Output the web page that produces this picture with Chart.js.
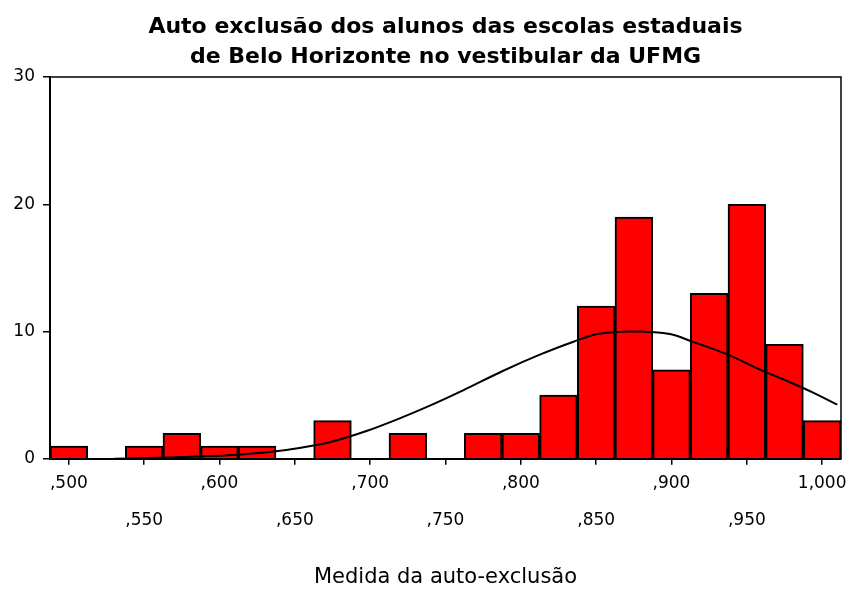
<!DOCTYPE html>
<html>
<head>
<meta charset="utf-8">
<script src="https://cdn.jsdelivr.net/npm/chart.js@4"></script>
<style>
  body { margin: 0; background: #fff; }
  #wrap { width: 850px; height: 590px; }
</style>
</head>
<body>
<div id="wrap"><canvas id="histChart" width="850" height="590"></canvas></div>
<script>
// bin centres (width ,025) and counts
const binCenters = [0.500, 0.525, 0.550, 0.575, 0.600, 0.625, 0.650, 0.675, 0.700, 0.725, 0.750,
                    0.775, 0.800, 0.825, 0.850, 0.875, 0.900, 0.925, 0.950, 0.975, 1.000];
const binCounts = [1, 0, 1, 2, 1, 1, 0, 3, 0, 2, 0, 2, 2, 5, 12, 19, 7, 13, 20, 9, 3];

// normal curve
const curveX = [0.530, 0.560, 0.587, 0.609, 0.636, 0.654, 0.675, 0.698, 0.720, 0.740, 0.762, 0.788,
                0.813, 0.835, 0.851, 0.875, 0.899, 0.914, 0.937, 0.959, 0.977, 0.994, 1.010];
const curveY = [0.0, 0.08, 0.18, 0.30, 0.57, 0.87, 1.36, 2.2, 3.2, 4.2, 5.4, 6.9,
                8.2, 9.2, 9.8, 10.0, 9.8, 9.2, 8.2, 7.0, 6.1, 5.2, 4.25];

const xTickValues = [0.50, 0.55, 0.60, 0.65, 0.70, 0.75, 0.80, 0.85, 0.90, 0.95, 1.00];
const xTickLabels = [',500', ',550', ',600', ',650', ',700', ',750', ',800', ',850', ',900', ',950', '1,000'];
const yTickValues = [0, 10, 20, 30];

const FONT = '"DejaVu Sans", Arial, sans-serif';

// box round the plot area (top and right sides)
const frame = {
    id: 'frame',
    afterDatasetsDraw(chart) {
        const { ctx, chartArea: a } = chart;
        ctx.save();
        ctx.strokeStyle = '#000';
        ctx.lineWidth = 1.5;
        ctx.beginPath();
        ctx.moveTo(a.left, a.top);
        ctx.lineTo(a.right, a.top);
        ctx.lineTo(a.right, a.bottom);
        ctx.stroke();
        ctx.restore();
    }
};

const ctx = document.getElementById('histChart').getContext('2d');
new Chart(ctx, {
    type: 'bar',
    data: {
        datasets: [
            {
                type: 'line',
                order: 0,
                data: curveX.map((x, i) => ({ x: x, y: curveY[i] })),
                borderColor: '#000',
                borderWidth: 2,
                pointRadius: 0,
                cubicInterpolationMode: 'monotone',
                fill: false
            },
            {
                type: 'bar',
                order: 1,
                data: binCenters.map((x, i) => ({ x: x, y: binCounts[i] })),
                backgroundColor: '#ff0000',
                borderColor: '#000',
                borderWidth: 2,
                barPercentage: 1,
                categoryPercentage: 1
            }
        ]
    },
    plugins: [frame],
    options: {
        responsive: false,
        animation: false,
        layout: { padding: { left: 0, right: 9, top: 0, bottom: 0 } },
        plugins: {
            legend: { display: false },
            tooltip: { enabled: false },
            title: {
                display: true,
                fullSize: false,
                text: ['Auto exclusão dos alunos das escolas estaduais', 'de Belo Horizonte no vestibular da UFMG'],
                color: '#000',
                font: { family: FONT, size: 22, weight: 'bold', lineHeight: 30 / 22 },
                padding: { top: 12, bottom: 5 }
            }
        },
        scales: {
            x: {
                type: 'linear',
                offset: false,
                min: 0.4875,
                max: 1.0125,
                afterBuildTicks: (scale) => {
                    scale.ticks = xTickValues.map(v => ({ value: v }));
                },
                ticks: {
                    includeBounds: false,
                    autoSkip: false,
                    maxRotation: 0,
                    padding: 0,
                    color: '#000',
                    font: { family: FONT, size: 17, lineHeight: 37 / 17 },
                    callback: function(value, index) {
                        const label = xTickLabels[index];
                        return index % 2 === 0 ? label : ['', label];
                    }
                },
                grid: { offset: false, drawOnChartArea: false, drawTicks: true, tickLength: 6, color: '#000', lineWidth: 1.5 },
                border: { display: true, color: '#000', width: 2 },
                title: {
                    display: true,
                    text: 'Medida da auto-exclusão',
                    color: '#000',
                    font: { family: FONT, size: 21, lineHeight: 1.2 },
                    padding: { top: 26, bottom: 0 }
                }
            },
            y: {
                min: 0,
                max: 30,
                afterBuildTicks: (scale) => {
                    scale.ticks = yTickValues.map(v => ({ value: v }));
                },
                afterFit: (scale) => { scale.width = 50; },
                ticks: {
                    padding: 8,
                    color: '#000',
                    font: { family: FONT, size: 17 }
                },
                grid: { drawOnChartArea: false, drawTicks: true, tickLength: 7, color: '#000', lineWidth: 1.5 },
                border: { display: true, color: '#000', width: 2 }
            }
        }
    }
});
</script>
</body>
</html>
